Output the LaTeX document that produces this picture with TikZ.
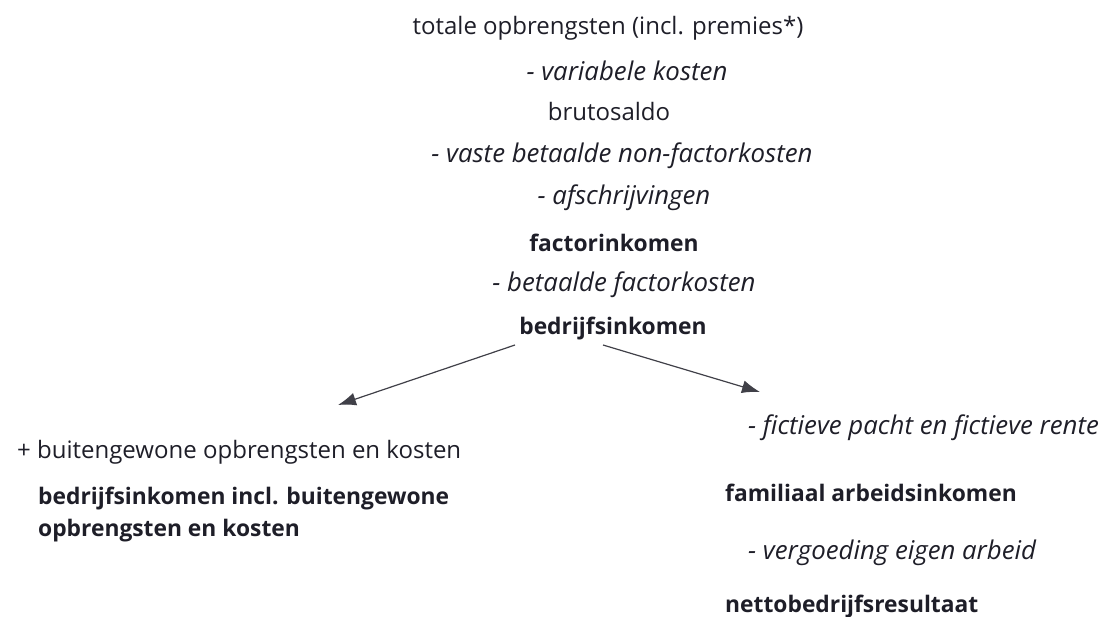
\documentclass[tikz,border=0pt]{standalone}
\usepackage{fontspec}
\setmainfont{Open Sans}
\usetikzlibrary{arrows.meta}
\definecolor{txt}{HTML}{1E1E28}
\tikzset{
  lbl/.style={inner sep=0pt, text=txt, font=\fontsize{24}{28}\selectfont},
  ital/.style={lbl, font=\fontsize{25.8}{30}\selectfont\itshape},
  bld/.style={lbl, font=\fontsize{22.8}{32}\selectfont\bfseries},
  arr/.style={draw=txt!85, line width=1.2pt, -{Latex[length=18pt,width=13pt]}}
}
\begin{document}
\begin{tikzpicture}[x=1pt,y=-1pt]
\useasboundingbox (0,0) rectangle (1113,617);
\node[lbl] (tot) at (608,28) {totale opbrengsten (incl. premies*)};
\node[ital] (var) at (627,71) {- variabele kosten};
\node[lbl] (bru) at (609,112) {brutosaldo};
\node[ital] (vas) at (622,156) {- vaste betaalde non-factorkosten};
\node[ital] (afs) at (624,198) {- afschrijvingen};
\node[bld] (fac) at (614,243) {factorinkomen};
\node[ital] (bet) at (624,285) {- betaalde factorkosten};
\node[bld] (bed) at (613,329) {bedrijfsinkomen};
\coordinate (sl) at (515,345);
\coordinate (el) at (338,405);
\coordinate (sr) at (603,345);
\coordinate (er) at (760,392);
\draw[arr] (sl) -- (el);
\draw[arr] (sr) -- (er);
\node[lbl, anchor=west] (bui) at (17,452) {+ buitengewone opbrengsten en kosten};
\node[bld, anchor=west, align=left] (bin) at (38,515) {bedrijfsinkomen incl. buitengewone\\opbrengsten en kosten};
\node[ital, anchor=west] (fic) at (748,428) {- fictieve pacht en fictieve rente};
\node[bld, anchor=west] (fam) at (725,493) {familiaal arbeidsinkomen};
\node[ital, anchor=west] (ver) at (748,553) {- vergoeding eigen arbeid};
\node[bld, anchor=west] (net) at (725,607) {nettobedrijfsresultaat};
\end{tikzpicture}
\end{document}
